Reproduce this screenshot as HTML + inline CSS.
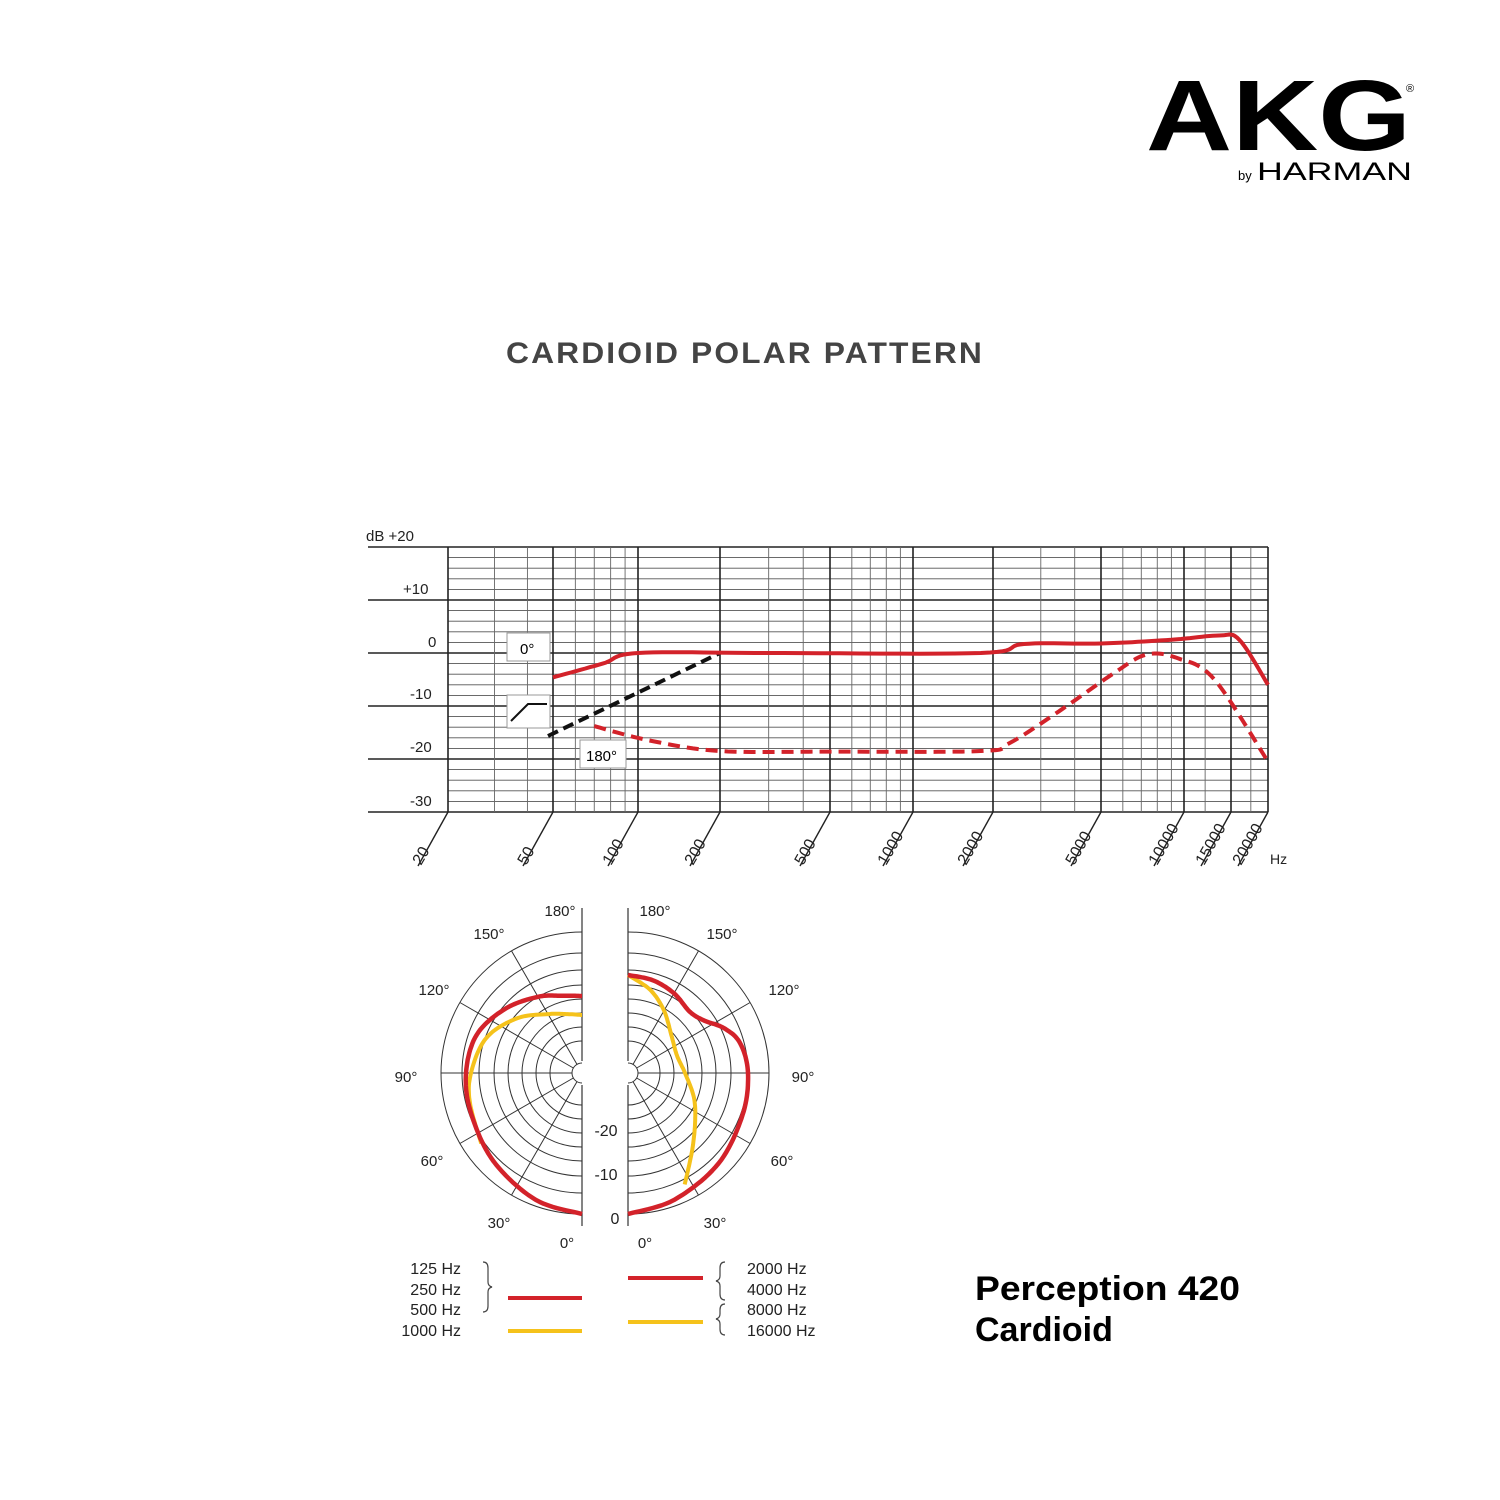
<!DOCTYPE html>
<html><head><meta charset="utf-8"><style>
html,body{margin:0;padding:0;background:#fff;}
svg{display:block;}
text{font-family:"Liberation Sans",sans-serif;}
</style></head><body>
<svg id="s" width="1500" height="1500" viewBox="0 0 1500 1500" xmlns="http://www.w3.org/2000/svg">
<text x="1146" y="150" font-size="100" font-weight="bold" textLength="265" lengthAdjust="spacingAndGlyphs">AKG</text>
<text x="1406" y="92" font-size="11">®</text>
<text x="1238" y="180" font-size="13">by</text>
<text x="1257" y="180" font-size="25" textLength="155" lengthAdjust="spacingAndGlyphs">HARMAN</text>
<text x="745" y="363" font-size="30" font-weight="bold" fill="#444" text-anchor="middle" letter-spacing="2" textLength="478" lengthAdjust="spacingAndGlyphs">CARDIOID POLAR PATTERN</text>
<g id="chart"></g>
<g id="polar"></g>
<g font-size="16" fill="#222">
<text x="461" y="1274" text-anchor="end">125 Hz</text>
<text x="461" y="1295" text-anchor="end">250 Hz</text>
<text x="461" y="1315" text-anchor="end">500 Hz</text>
<text x="461" y="1336" text-anchor="end">1000 Hz</text>
<text x="747" y="1274">2000 Hz</text>
<text x="747" y="1295">4000 Hz</text>
<text x="747" y="1315">8000 Hz</text>
<text x="747" y="1336">16000 Hz</text>
</g>
<path d="M483,1262 q5,0 5,6 v14 q0,4 4,5 q-4,1 -4,5 v14 q0,6 -5,6" fill="none" stroke="#444" stroke-width="1.2"/>
<path d="M725,1262 q-5,0 -5,6 v8 q0,4 -4,5 q4,1 4,5 v8 q0,6 5,6" fill="none" stroke="#444" stroke-width="1.2"/>
<path d="M725,1304 q-5,0 -5,6 v4 q0,4 -4,5 q4,1 4,5 v5 q0,6 5,6" fill="none" stroke="#444" stroke-width="1.2"/>
<line x1="508" y1="1298" x2="582" y2="1298" stroke="#d3222a" stroke-width="4"/>
<line x1="508" y1="1331" x2="582" y2="1331" stroke="#f5c21b" stroke-width="4"/>
<line x1="628" y1="1278" x2="703" y2="1278" stroke="#d3222a" stroke-width="4"/>
<line x1="628" y1="1322" x2="703" y2="1322" stroke="#f5c21b" stroke-width="4"/>
<text x="975" y="1300" font-size="34" font-weight="bold" textLength="265" lengthAdjust="spacingAndGlyphs">Perception 420</text>
<text x="975" y="1341" font-size="34" font-weight="bold">Cardioid</text>
</svg>
<script>
var NS="http://www.w3.org/2000/svg";
function el(p,t,a,txt){var e=document.createElementNS(NS,t);for(var k in a)e.setAttribute(k,a[k]);if(txt!=null)e.textContent=txt;p.appendChild(e);return e;}
var A=[[20,448],[50,553],[100,638],[200,720],[500,830],[1000,913],[2000,993],[5000,1101],[10000,1184],[15000,1231],[20000,1268]];
function fx(f){var l=Math.log(f);for(var i=0;i<A.length-1;i++){var a=Math.log(A[i][0]),b=Math.log(A[i+1][0]);if(l<=b||i==A.length-2){return A[i][1]+(l-a)/(b-a)*(A[i+1][1]-A[i][1]);}}}
function fy(d){return 653-d*5.3;}
function spline(P){var s=[];for(var i=0;i<P.length-1;i++){var p0=P[Math.max(i-1,0)],p1=P[i],p2=P[i+1],p3=P[Math.min(i+2,P.length-1)];for(var k=0;k<12;k++){var t=k/12,t2=t*t,t3=t2*t;var x=0.5*((2*p1[0])+(-p0[0]+p2[0])*t+(2*p0[0]-5*p1[0]+4*p2[0]-p3[0])*t2+(-p0[0]+3*p1[0]-3*p2[0]+p3[0])*t3);var y=0.5*((2*p1[1])+(-p0[1]+p2[1])*t+(2*p0[1]-5*p1[1]+4*p2[1]-p3[1])*t2+(-p0[1]+3*p1[1]-3*p2[1]+p3[1])*t3);s.push(x.toFixed(1)+","+y.toFixed(1));}}var L=P[P.length-1];s.push(L[0]+","+L[1]);return s.join(" ");}
var C=document.getElementById("chart");
for(var d=-30;d<=20;d+=2){var maj=(d%10==0);el(C,"line",{x1:maj?368:448,x2:1268,y1:fy(d),y2:fy(d),stroke:maj?"#222":"#555","stroke-width":maj?1.6:0.9});}
var minors=[30,40,60,70,80,90,300,400,600,700,800,900,3000,4000,6000,7000,8000,9000,12000,17500];
minors.forEach(function(f){el(C,"line",{x1:fx(f),x2:fx(f),y1:547,y2:812,stroke:"#666","stroke-width":0.9});});
A.forEach(function(a){var x=a[1];el(C,"line",{x1:x,x2:x,y1:547,y2:812,stroke:"#222","stroke-width":1.6});el(C,"line",{x1:x,x2:x-30,y1:812,y2:866,stroke:"#222","stroke-width":1.4});
el(C,"text",{x:x-27,y:866,"font-size":16,fill:"#222",transform:"rotate(-60 "+(x-27)+" 866)"},String(a[0]));});
el(C,"text",{x:1270,y:864,"font-size":14,fill:"#222"},"Hz");
[["dB  +20",366,541],["+10",403,594],["0",428,647],["-10",410,699],["-20",410,752],["-30",410,806]].forEach(function(l){el(C,"text",{x:l[1],y:l[2],"font-size":15,fill:"#222","xml:space":"preserve"},l[0]);});
el(C,"rect",{x:507,y:633,width:43,height:28,fill:"#fff",stroke:"#999","stroke-width":1});
el(C,"text",{x:520,y:654,"font-size":15},"0°");
el(C,"rect",{x:507,y:695,width:43,height:33,fill:"#fff",stroke:"#999","stroke-width":1});
el(C,"polyline",{points:"511,721 528,704 547,704",fill:"none",stroke:"#111","stroke-width":2});
el(C,"rect",{x:580,y:740,width:46,height:28,fill:"#fff",stroke:"#999","stroke-width":1});
el(C,"text",{x:586,y:761,"font-size":15},"180°");
function fc(pts){return spline(pts.map(function(p){return [fx(p[0]),fy(p[1])];}));}
el(C,"polyline",{points:"548,736 720,653",fill:"none",stroke:"#111","stroke-width":4,"stroke-dasharray":"11,6"});
el(C,"polyline",{points:fc([[70,-13.8],[110,-16.5],[200,-18.5],[500,-18.6],[1800,-18.5],[2300,-17],[3500,-11],[5500,-4],[7300,-0.3],[9500,-1],[13000,-5],[20000,-20.5]]),fill:"none",stroke:"#d3222a","stroke-width":4,"stroke-dasharray":"12,7"});
el(C,"polyline",{points:fc([[50,-4.6],[75,-2],[100,0],[300,0],[1800,0],[2600,1.7],[5000,1.8],[9000,2.5],[13500,3.3],[16000,2.5],[20000,-6]]),fill:"none",stroke:"#d3222a","stroke-width":4,"stroke-linejoin":"round"});
var P=document.getElementById("polar");var cy=1073;
var rings=[141,120,103,88,74,60,46,32];
[[582,-1],[628,1]].forEach(function(h){var cx=h[0],sg=h[1];
rings.forEach(function(r){el(P,"path",{d:"M"+cx+","+(cy-r)+" A"+r+","+r+" 0 0 "+(sg<0?0:1)+" "+cx+","+(cy+r),fill:"none",stroke:"#333","stroke-width":1});});
for(var a=30;a<180;a+=30){var rad=a*Math.PI/180;el(P,"line",{x1:cx+sg*10*Math.sin(rad),y1:cy+10*Math.cos(rad),x2:cx+sg*141*Math.sin(rad),y2:cy+141*Math.cos(rad),stroke:"#333","stroke-width":1});}
el(P,"line",{x1:cx+sg*10,y1:cy,x2:cx+sg*141,y2:cy,stroke:"#333","stroke-width":1});
el(P,"path",{d:"M"+cx+","+(cy-10)+" A10,10 0 0 "+(sg<0?0:1)+" "+cx+","+(cy+10),fill:"#fff",stroke:"#333","stroke-width":1});
el(P,"line",{x1:cx,x2:cx,y1:cy-165,y2:cy-12,stroke:"#333","stroke-width":1.2});
el(P,"line",{x1:cx,x2:cx,y1:cy+12,y2:cy+153,stroke:"#333","stroke-width":1.2});
});
function pc(cx,sg,pts){return spline(pts.map(function(p){var rad=p[0]*Math.PI/180;return [cx+sg*p[1]*Math.sin(rad),cy+p[1]*Math.cos(rad)];}));}
el(P,"polyline",{points:pc(582,-1,[[55,123],[75,116],[90,111],[110,102],[130,85],[150,68],[165,61],[180,58]]),fill:"none",stroke:"#f5c21b","stroke-width":4,"stroke-linejoin":"round"});
el(P,"polyline",{points:pc(582,-1,[[0,141],[20,135],[45,125],[70,118],[90,116],[110,112],[130,100],[150,88],[165,80],[180,77]]),fill:"none",stroke:"#d3222a","stroke-width":4.5,"stroke-linejoin":"round"});
el(P,"polyline",{points:pc(628,1,[[27,125],[40,100],[55,82],[70,70],[90,57],[110,52],[130,57],[150,72],[165,86],[180,98]]),fill:"none",stroke:"#f5c21b","stroke-width":4,"stroke-linejoin":"round"});
el(P,"polyline",{points:pc(628,1,[[0,141],[20,135],[45,128],[70,122],[90,120],[105,116],[115,106],[125,92],[135,87],[150,92],[165,96],[180,98]]),fill:"none",stroke:"#d3222a","stroke-width":4.5,"stroke-linejoin":"round"});
[["180°",560,916],["150°",489,939],["120°",434,995],["90°",406,1082],["60°",432,1166],["30°",499,1228],["0°",567,1248],
 ["180°",655,916],["150°",722,939],["120°",784,995],["90°",803,1082],["60°",782,1166],["30°",715,1228],["0°",645,1248]].forEach(function(l){el(P,"text",{x:l[1],y:l[2],"font-size":15,fill:"#222","text-anchor":"middle"},l[0]);});
[["-20",606,1136],["-10",606,1180],["0",615,1224]].forEach(function(l){el(P,"text",{x:l[1],y:l[2],"font-size":16,fill:"#222","text-anchor":"middle"},l[0]);});
</script>
</body></html>
